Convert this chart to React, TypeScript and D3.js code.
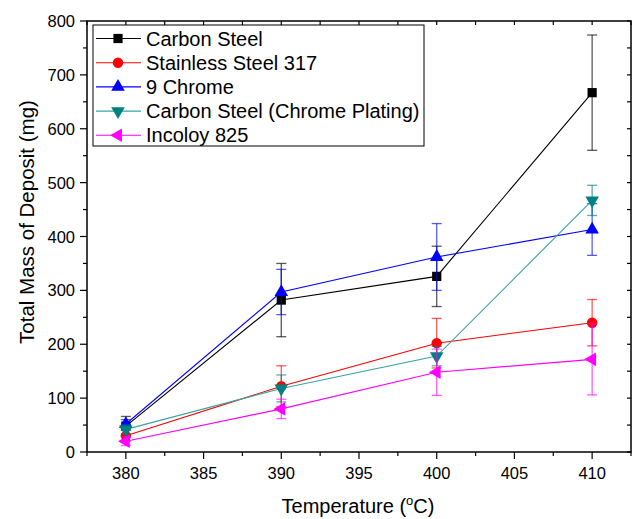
import { useEffect, useRef } from "react";
import * as d3 from "d3";

const temps = [380, 390, 400, 410];
const seriesNames = [
  "Carbon Steel",
  "Stainless Steel 317",
  "9 Chrome",
  "Carbon Steel (Chrome Plating)",
  "Incoloy 825",
];
const carbonSteel = [48, 282, 326, 667];
const carbonSteelErr = [18, 68, 56, 107];
const stainless317 = [30, 122, 202, 240];
const stainless317Err = [10, 38, 46, 43];
const nineChrome = [52, 297, 362, 413];
const nineChromeErr = [8, 42, 62, 48];
const chromePlating = [42, 118, 178, 467];
const chromePlatingErr = [8, 25, 18, 28];
const incoloy = [20, 80, 148, 172];
const incoloyErr = [8, 18, 43, 66];
const xTicks = [380, 385, 390, 395, 400, 405, 410];
const yTicks = [0, 100, 200, 300, 400, 500, 600, 700, 800];

const colors = ["#000000", "#ff0000", "#0000ff", "#008080", "#ff00ff"];
const lineColors = ["#000000", "#ff0000", "#0000ff", "#3aa3a3", "#ff00ff"];
const markers = ["square", "circle", "up", "down", "left"];

export default function App() {
  const ref = useRef<SVGSVGElement>(null);

  useEffect(() => {
    const svg = d3.select(ref.current);
    svg.selectAll("*").remove();

    const left = 87, right = 631, top = 21, bottom = 452;
    const x = d3.scaleLinear().domain([377.5, 412.5]).range([left, right]);
    const y = d3.scaleLinear().domain([0, 800]).range([bottom, top]);
    const font = "'Liberation Sans', Arial, sans-serif";

    const values = [carbonSteel, stainless317, nineChrome, chromePlating, incoloy];
    const errs = [carbonSteelErr, stainless317Err, nineChromeErr, chromePlatingErr, incoloyErr];

    const symbolPath = (kind: string) => {
      if (kind === "square") return d3.symbol(d3.symbolSquare, 85)();
      if (kind === "circle") return d3.symbol(d3.symbolCircle, 85)();
      return d3.symbol(d3.symbolTriangle, 80)();
    };
    const rot = (kind: string) =>
      kind === "down" ? 180 : kind === "left" ? -90 : 0;

    // frame
    svg.append("rect")
      .attr("x", left).attr("y", top)
      .attr("width", right - left).attr("height", bottom - top)
      .attr("fill", "none").attr("stroke", "#000").attr("stroke-width", 1.5);

    // ticks
    const g = svg.append("g").attr("stroke", "#000").attr("stroke-width", 1.2);
    d3.range(377.5, 412.51, 2.5).forEach((v) => {
      const major = xTicks.includes(v);
      g.append("line").attr("x1", x(v)).attr("x2", x(v))
        .attr("y1", bottom).attr("y2", bottom + (major ? 7 : 4));
      g.append("line").attr("x1", x(v)).attr("x2", x(v))
        .attr("y1", top).attr("y2", top + 4);
    });
    d3.range(0, 801, 50).forEach((v) => {
      const major = v % 100 === 0;
      g.append("line").attr("x1", left).attr("x2", left - (major ? 7 : 4))
        .attr("y1", y(v)).attr("y2", y(v));
      g.append("line").attr("x1", right).attr("x2", right - 4)
        .attr("y1", y(v)).attr("y2", y(v));
    });

    svg.append("g").selectAll("text").data(xTicks).join("text")
      .attr("x", (d) => x(d)).attr("y", 479)
      .attr("text-anchor", "middle")
      .attr("font-family", font).attr("font-size", 16.5)
      .text((d) => d);
    svg.append("g").selectAll("text").data(yTicks).join("text")
      .attr("x", 75).attr("y", (d) => y(d) + 6)
      .attr("text-anchor", "end")
      .attr("font-family", font).attr("font-size", 16.5)
      .text((d) => d);

    const xt = svg.append("text")
      .attr("x", 358).attr("y", 513)
      .attr("text-anchor", "middle")
      .attr("font-family", font).attr("font-size", 20);
    xt.append("tspan").text("Temperature (");
    xt.append("tspan").attr("font-size", 13).attr("dy", -8).text("o");
    xt.append("tspan").attr("dy", 8).text("C)");

    svg.append("text")
      .attr("transform", `translate(34,222) rotate(-90)`)
      .attr("text-anchor", "middle")
      .attr("font-family", font).attr("font-size", 20.5)
      .text("Total Mass of Deposit (mg)");

    const line = d3.line<number>()
      .x((_, i) => x(temps[i]))
      .y((d) => y(d));

    values.forEach((vals, s) => {
      const sg = svg.append("g");
      sg.append("path").datum(vals)
        .attr("d", line)
        .attr("fill", "none")
        .attr("stroke", lineColors[s]).attr("stroke-width", 1.1);
      vals.forEach((v, i) => {
        const e = errs[s][i];
        const cx = x(temps[i]);
        const eg = sg.append("g").attr("stroke", colors[s]).attr("stroke-opacity", 0.65).attr("stroke-width", 1.3);
        eg.append("line").attr("x1", cx).attr("x2", cx).attr("y1", y(v - e)).attr("y2", y(v + e));
        eg.append("line").attr("x1", cx - 5).attr("x2", cx + 5).attr("y1", y(v - e)).attr("y2", y(v - e));
        eg.append("line").attr("x1", cx - 5).attr("x2", cx + 5).attr("y1", y(v + e)).attr("y2", y(v + e));
      });
      sg.selectAll("path.m").data(vals).join("path")
        .attr("class", "m")
        .attr("d", symbolPath(markers[s]))
        .attr("transform", (d, i) => `translate(${x(temps[i])},${y(d)}) rotate(${rot(markers[s])})`)
        .attr("fill", colors[s]);
    });

    // legend
    const lg = svg.append("g");
    lg.append("rect")
      .attr("x", 93).attr("y", 25).attr("width", 331).attr("height", 121)
      .attr("fill", "#fff").attr("stroke", "#000").attr("stroke-width", 1);
    seriesNames.forEach((name, s) => {
      const cy = 38.5 + s * 24.2;
      lg.append("line").attr("x1", 96).attr("x2", 141).attr("y1", cy).attr("y2", cy)
        .attr("stroke", lineColors[s]).attr("stroke-width", 1.1);
      lg.append("path").attr("d", symbolPath(markers[s]))
        .attr("transform", `translate(118,${cy}) rotate(${rot(markers[s])})`)
        .attr("fill", colors[s]);
      lg.append("text").attr("x", 146).attr("y", cy + 7)
        .attr("font-family", font).attr("font-size", 20)
        .text(name);
    });
  }, []);

  return (
    <svg
      ref={ref}
      width={633}
      height={519}
      style={{ position: "absolute", left: 0, top: 0, background: "#fff" }}
    />
  );
}
